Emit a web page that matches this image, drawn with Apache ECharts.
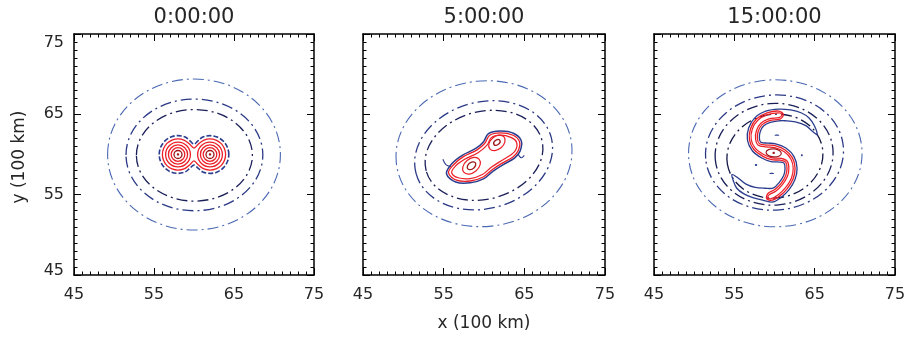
<!DOCTYPE html>
<html><head><meta charset="utf-8">
<script src="https://cdn.jsdelivr.net/npm/echarts@6/dist/echarts.min.js"></script>
<style>html,body{margin:0;padding:0;background:#fff}#c{width:909px;height:337px}</style>
</head><body><div id="c"></div>
<script>
// ---------- data ----------
const panelTitles = ['0:00:00', '5:00:00', '15:00:00'];
const axisMin = 45, axisMax = 75, tickStep = 10;
const xTitle = 'x (100 km)', yTitle = 'y (100 km)';

// dash-dot contour rings: [cx, cy, rx, ry, tiltDeg]
const ringsP1 = [[60, 60, 10.8, 9.4, 0], [60.05, 59.95, 8.55, 6.95, 0], [60.05, 59.9, 7.25, 5.7, 0]];
const ringsP2 = [[60, 60.1, 10.93, 9.06, 6], [59.95, 59.9, 8.67, 6.64, 15], [60, 59.9, 7.42, 5.45, 15]];
const ringsP3 = [[60.1, 60.15, 10.8, 9.15, 0], [60, 60.24, 8.6, 7.16, 5], [59.95, 60.03, 7.35, 6.33, 5], [60.05, 59.8, 6.0, 5.2, 10]];

// panel 1: twin vortices
const vortexP1 = [[58, 60], [62, 60]];
const ringRadiiP1 = [0.85, 1.2, 1.55];
const coreRadiusP1 = 0.5;
const dotRadius = 0.15;
const redOuterP1 = [[63.95,60],[63.8,60.75],[63.38,61.38],[62.75,61.8],[62,61.95],[61.25,61.8],[60.6,61.35],[60,60.8],[59.4,61.35],[58.75,61.8],[58,61.95],[57.25,61.8],[56.62,61.38],[56.2,60.75],[56.05,60],[56.2,59.25],[56.62,58.62],[57.25,58.2],[58,58.05],[58.75,58.2],[59.4,58.65],[60,59.2],[60.6,58.65],[61.25,58.2],[62,58.05],[62.75,58.2],[63.38,58.62],[63.8,59.25]];
const blueP1 = [[64.35,60],[64.17,60.9],[63.66,61.66],[62.9,62.17],[62,62.35],[61.1,62.17],[60.5,61.7],[60,61.3],[59.5,61.7],[58.9,62.17],[58,62.35],[57.1,62.17],[56.34,61.66],[55.83,60.9],[55.65,60],[55.83,59.1],[56.34,58.34],[57.1,57.83],[58,57.65],[58.9,57.83],[59.5,58.3],[60,58.7],[60.5,58.3],[61.1,57.83],[62,57.65],[62.9,57.83],[63.66,58.34],[64.17,59.1]];

// panel 2: merging pair
const redOuterP2 = [[55.6,57.7],[56.6,56.8],[58.3,56.7],[59.9,57.2],[61.0,58.1],[62.2,58.9],[63.6,59.7],[64.25,60.5],[64.4,61.6],[63.6,62.4],[62.0,62.7],[60.7,62.4],[60.1,61.4],[59.1,60.55],[57.4,59.7],[56.2,58.7]];
const redInnerP2 = [[56.0,57.7],[56.8,57.1],[58.3,57.0],[59.8,57.5],[60.9,58.4],[62.1,59.2],[63.4,60.0],[63.95,60.6],[64.05,61.5],[63.4,62.1],[62.0,62.4],[60.9,62.1],[60.4,61.2],[59.3,60.25],[57.6,59.4],[56.4,58.5]];
const blueP2 = [[55.35,57.6],[56.5,56.58],[58.3,56.48],[60.0,57.0],[61.13,57.92],[62.33,58.72],[63.78,59.55],[64.47,60.42],[64.62,61.7],[63.7,62.62],[62.0,62.92],[60.55,62.6],[59.92,61.55],[58.98,60.75],[57.3,59.9],[56.0,58.85]];
const filamentP2a = [[54.9,59.4],[55.3,58.7],[55.9,58.5]];
const filamentP2b = [[64.2,60.1],[64.6,59.6],[65.0,59.9]];
const lobesP2 = [[58.45, 58.6, 1.25, 0.85, 40], [61.6, 61.45, 1.15, 0.8, 40]];
const coresP2 = [[58.45, 58.6, 0.6, 0.4, 40], [61.6, 61.5, 0.45, 0.3, 40]];

// panel 3: spiral
const redOuterP3 = [[60.53,65.4],[59.08,65.18],[57.77,64.44],[57.02,63.21],[56.88,61.82],[57.44,60.62],[58.57,59.77],[59.64,59.35],[60.74,59.29],[61.39,59.05],[61.56,58.26],[61.39,57.34],[60.8,56.38],[60.05,55.64],[59.21,55.18],[59.02,54.5],[59.7,54.31],[60.66,54.85],[61.59,55.76],[62.32,56.97],[62.56,58.28],[62.24,59.58],[61.32,60.57],[60.08,61.09],[59.08,61.18],[58.14,61.33],[57.87,61.96],[57.97,62.89],[58.46,63.72],[59.39,64.23],[60.67,64.4],[61.1,64.97]];
const redInnerP3 = [[60.56,65.17],[59.15,64.96],[57.92,64.27],[57.23,63.14],[57.1,61.85],[57.6,60.78],[58.65,60.0],[59.7,59.59],[60.84,59.52],[61.58,59.17],[61.79,58.26],[61.6,57.25],[60.98,56.24],[60.19,55.45],[59.32,54.97],[59.2,54.6],[59.58,54.51],[60.51,55.03],[61.4,55.9],[62.1,57.05],[62.33,58.28],[62.04,59.45],[61.22,60.34],[60.02,60.85],[58.99,60.94],[57.98,61.16],[57.64,61.93],[57.75,62.96],[58.3,63.89],[59.31,64.44],[60.64,64.63],[60.9,64.94]];
const blueP3 = [[65.3,62.5],[64.75,62.85],[63.9,63.6],[62.6,64.05],[61.3,64.2],[60.7,64.2],[59.47,63.99],[58.63,63.54],[58.21,62.81],[58.12,62.0],[58.32,61.51],[59.17,61.42],[60.14,61.33],[61.42,60.8],[62.45,59.71],[62.81,58.28],[62.55,56.88],[61.79,55.6],[60.81,54.65],[59.82,54.09],[58.6,54.3],[57.4,54.6],[56.2,55.1],[55.3,55.8],[54.85,56.8],[54.7,57.5],[55.3,57.2],[56.4,56.35],[57.6,55.9],[58.8,55.8],[59.9,55.84],[60.6,56.54],[61.16,57.43],[61.31,58.26],[61.18,58.92],[60.64,59.06],[59.58,59.11],[58.48,59.53],[57.26,60.44],[56.63,61.78],[56.78,63.29],[57.6,64.62],[59.0,65.42],[60.49,65.65],[62.0,65.55],[63.3,65.2],[64.3,64.55],[64.95,63.6]];
const eyeP3 = [[59.9, 60.2, 0.95, 0.5, -5]];
const eyeDotP3 = [[59.9, 60.2, 0.15, 0.15, 0]];
const specksP3 = [[60.3, 62.4, 0.3, 0.08, 0], [63.4, 59.9, 0.12, 0.12, 0], [59.65, 57.65, 0.3, 0.08, 0], [57.7, 58.7, 0.15, 0.12, 0]];

// ---------- styles ----------
const FONT = '"DejaVu Sans", "Liberation Sans", sans-serif';
const TXT = '#262626';
const ringColors = ['#4b69b3', '#2a3986', '#1a1f58', '#141847'];
const DASHDOT = [11, 4, 2, 4];
const RED = '#ec1f27', DARKRED = '#9c1a1c', NAVY = '#2b3d8e';

const grids = [
  {left: 74, top: 34, width: 240, height: 241},
  {left: 363, top: 34, width: 242, height: 241},
  {left: 654, top: 34, width: 241, height: 241}
];

function axisBase(gi) {
  return {
    gridIndex: gi, type: 'value', min: axisMin, max: axisMax, interval: tickStep,
    axisLine: {show: true, onZero: false, lineStyle: {color: '#000', width: 1.5}},
    axisTick: {show: true, inside: true, length: 7, lineStyle: {color: '#000', width: 1}},
    minorTick: {show: true, splitNumber: 10, length: 3.5, lineStyle: {color: '#000', width: 1}},
    splitLine: {show: false}, minorSplitLine: {show: false}
  };
}
const xAxes = [], yAxes = [];
for (let i = 0; i < 3; i++) {
  xAxes.push(Object.assign(axisBase(i), {position: 'bottom',
    axisLabel: {show: true, margin: 12, fontSize: 16, color: TXT, fontFamily: FONT, showMinLabel: true, showMaxLabel: true, hideOverlap: false}}));
}
for (let i = 0; i < 3; i++) {
  xAxes.push(Object.assign(axisBase(i), {position: 'top', axisLabel: {show: false}}));
}
const rs = {fontSize: 16, color: TXT, fontFamily: FONT};
for (let i = 0; i < 3; i++) {
  yAxes.push(Object.assign(axisBase(i), {position: 'left',
    axisLabel: {show: i === 0, margin: 10, fontSize: 16, color: TXT, fontFamily: FONT, showMinLabel: true, showMaxLabel: true, hideOverlap: false,
      formatter: v => v === axisMax ? '{t|' + v + '}' : (v === axisMin ? '{b|' + v + '}' : '{m|' + v + '}'),
      rich: {t: Object.assign({padding: [18, 0, 0, 0]}, rs), b: Object.assign({padding: [0, 0, 8, 0]}, rs), m: Object.assign({}, rs)}}}));
}
for (let i = 0; i < 3; i++) {
  yAxes.push(Object.assign(axisBase(i), {position: 'right', axisLabel: {show: false}}));
}

function ellipses(items, ax, color, width, dash, filled, z) {
  return {type: 'custom', coordinateSystem: 'cartesian2d', xAxisIndex: ax, yAxisIndex: ax, z: z, silent: true,
    data: items,
    renderItem: function (params, api) {
      const c = api.coord([api.value(0), api.value(1)]);
      const s = api.size([api.value(2), api.value(3)]);
      return {type: 'ellipse', x: c[0], y: c[1], rotation: api.value(4) * Math.PI / 180,
        shape: {cx: 0, cy: 0, rx: s[0], ry: s[1]},
        style: filled ? {fill: color, stroke: null} : {fill: null, stroke: color, lineWidth: width, lineDash: dash || null}};
    }};
}
function contour(pts, ax, color, width, dash, closed, z) {
  return {type: 'custom', coordinateSystem: 'cartesian2d', xAxisIndex: ax, yAxisIndex: ax, z: z, silent: true,
    data: pts,
    renderItem: function (params, api) {
      if (params.dataIndex !== 0) return null;
      const points = pts.map(p => api.coord(p));
      return {type: closed ? 'polygon' : 'polyline', shape: {points: points, smooth: 0.35},
        style: {fill: null, stroke: color, lineWidth: width, lineDash: dash || null}};
    }};
}

const series = [];
[ringsP1, ringsP2, ringsP3].forEach((rings, p) => {
  rings.forEach((r, k) => series.push(ellipses([r], p, ringColors[k], k === 0 ? 1.1 : 1.3, DASHDOT, false, 2)));
});
// panel 1
series.push(contour(blueP1, 0, NAVY, 1.6, [5, 2], true, 3));
series.push(contour(redOuterP1, 0, RED, 1.3, null, true, 4));
const p1Rings = [];
vortexP1.forEach(c => ringRadiiP1.forEach(r => p1Rings.push([c[0], c[1], r, r, 0])));
series.push(ellipses(p1Rings, 0, RED, 1.3, null, false, 4));
series.push(ellipses(vortexP1.map(c => [c[0], c[1], coreRadiusP1, coreRadiusP1, 0]), 0, DARKRED, 1.3, null, false, 5));
series.push(ellipses(vortexP1.map(c => [c[0], c[1], dotRadius, dotRadius, 0]), 0, DARKRED, 1, null, true, 5));
// panel 2
series.push(contour(blueP2, 1, NAVY, 1.5, null, true, 3));
series.push(contour(filamentP2a, 1, NAVY, 1.1, null, false, 3));
series.push(contour(filamentP2b, 1, NAVY, 1.1, null, false, 3));
series.push(contour(redOuterP2, 1, RED, 1.3, null, true, 4));
series.push(contour(redInnerP2, 1, RED, 1.2, null, true, 4));
series.push(ellipses(lobesP2, 1, RED, 1.2, null, false, 4));
series.push(ellipses(coresP2, 1, DARKRED, 1.3, null, false, 5));
// panel 3
series.push(contour(blueP3, 2, NAVY, 1.3, null, true, 3));
series.push(ellipses(specksP3, 2, NAVY, 1, null, true, 3));
series.push(contour(redOuterP3, 2, RED, 1.3, null, true, 4));
series.push(contour(redInnerP3, 2, RED, 1.2, null, true, 4));
series.push(ellipses(eyeP3, 2, DARKRED, 1.2, null, false, 5));
series.push(ellipses(eyeDotP3, 2, DARKRED, 1, null, true, 5));

const titleX = [194, 484, 774.5];
const graphics = panelTitles.map((t, i) => ({type: 'text', x: titleX[i], y: 18,
  style: {text: t, font: '21px ' + FONT, fill: TXT, align: 'center', verticalAlign: 'middle', textAlign: 'center', textVerticalAlign: 'middle'}}));
graphics.push({type: 'text', x: 484, y: 324, style: {text: xTitle, font: '17px ' + FONT, fill: TXT, align: 'center', verticalAlign: 'middle', textAlign: 'center', textVerticalAlign: 'middle'}});
graphics.push({type: 'text', x: 20, y: 157, rotation: Math.PI / 2, style: {text: yTitle, font: '17px ' + FONT, fill: TXT, align: 'center', verticalAlign: 'middle', textAlign: 'center', textVerticalAlign: 'middle'}});

const chart = echarts.init(document.getElementById('c'), null, {renderer: 'canvas'});
chart.setOption({
  animation: false,
  backgroundColor: '#fff',
  grid: grids,
  xAxis: xAxes,
  yAxis: yAxes,
  graphic: graphics,
  series: series
});
</script></body></html>
